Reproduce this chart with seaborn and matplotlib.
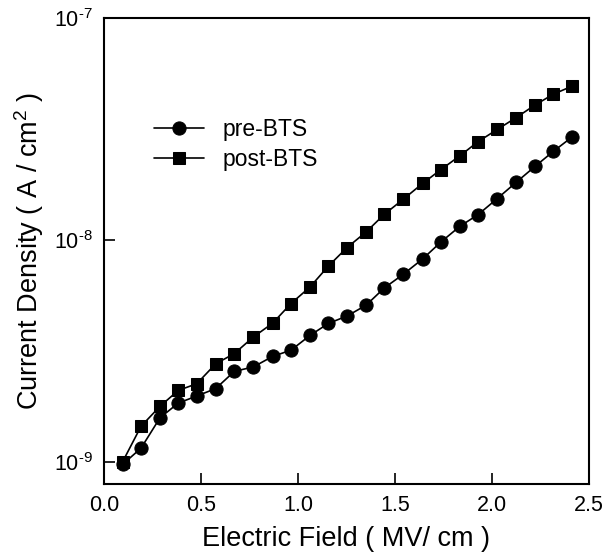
import matplotlib
matplotlib.use("Agg")
import matplotlib.pyplot as plt
import matplotlib.ticker as mticker
import seaborn as sns
import pandas as pd
import math

field = [0.096, 0.191, 0.289, 0.383, 0.478, 0.576, 0.672, 0.770, 0.869, 0.964,
         1.062, 1.156, 1.253, 1.351, 1.445, 1.543, 1.642, 1.737, 1.835, 1.929,
         2.027, 2.124, 2.222, 2.316, 2.414]
pre_bts = [9.8e-10, 1.16e-9, 1.59e-9, 1.85e-9, 1.99e-9, 2.15e-9, 2.57e-9, 2.69e-9,
           3.0e-9, 3.2e-9, 3.73e-9, 4.22e-9, 4.56e-9, 5.1e-9, 6.1e-9, 7.03e-9,
           8.23e-9, 9.82e-9, 1.156e-8, 1.305e-8, 1.54e-8, 1.82e-8, 2.15e-8,
           2.51e-8, 2.92e-8]
post_bts = [1.007e-9, 1.455e-9, 1.79e-9, 2.11e-9, 2.26e-9, 2.78e-9, 3.09e-9, 3.67e-9,
            4.23e-9, 5.19e-9, 6.16e-9, 7.64e-9, 9.27e-9, 1.089e-8, 1.308e-8, 1.53e-8,
            1.80e-8, 2.08e-8, 2.40e-8, 2.78e-8, 3.15e-8, 3.56e-8, 4.06e-8, 4.54e-8,
            4.94e-8]
series_names = ["pre-BTS", "post-BTS"]
x_ticks = [0.0, 0.5, 1.0, 1.5, 2.0, 2.5]
y_ticks = [1e-9, 1e-8, 1e-7]

df = pd.DataFrame({
    "E": field + field,
    "J": pre_bts + post_bts,
    "series": [series_names[0]] * len(field) + [series_names[1]] * len(field),
})

sns.set_style("ticks")
plt.rcParams["font.family"] = ["Liberation Sans", "DejaVu Sans"]
plt.rcParams["mathtext.fontset"] = "custom"
plt.rcParams["mathtext.rm"] = "Liberation Sans"
plt.rcParams["mathtext.it"] = "Liberation Sans:italic"
plt.rcParams["axes.unicode_minus"] = False
plt.rcParams["text.color"] = "black"
plt.rcParams["axes.labelcolor"] = "black"
plt.rcParams["xtick.color"] = "black"
plt.rcParams["ytick.color"] = "black"

fig = plt.figure(figsize=(6.15, 5.57), dpi=100)
ax = fig.add_axes([104 / 615, 1 - 484 / 557, 485 / 615, 466 / 557])

sns.lineplot(data=df, x="E", y="J", hue="series", style="series",
             markers={"pre-BTS": "o", "post-BTS": "s"}, dashes=False,
             palette={"pre-BTS": "black", "post-BTS": "black"},
             markersize=9, linewidth=1.2, markeredgecolor="black",
             ax=ax, legend=True)
for line in ax.lines:
    if line.get_marker() == "s":
        line.set_markersize(8)
    else:
        line.set_markersize(9.5)

ax.set_yscale("log")
ax.set_xlim(0.0, 2.5)
ax.set_ylim(10 ** -9.097, 1e-7)
ax.set_xticks(x_ticks)
ax.xaxis.set_major_formatter(mticker.FormatStrFormatter("%.1f"))
ax.yaxis.set_major_locator(mticker.FixedLocator(y_ticks))
ax.yaxis.set_minor_locator(mticker.NullLocator())


def log_fmt(v, pos):
    e = int(round(math.log10(v)))
    return r"$\mathregular{10^{\text{-}%d}}$" % (-e) if e < 0 else r"$\mathregular{10^{%d}}$" % e


ax.yaxis.set_major_formatter(mticker.FuncFormatter(log_fmt))

ax.tick_params(axis="both", which="major", direction="in", length=8, width=1.2,
               labelsize=15.5, pad=8, top=False, right=False, colors="black")
for s in ax.spines.values():
    s.set_linewidth(1.5)
    s.set_color("black")

ax.set_xlabel("Electric Field ( MV/ cm )", fontsize=19.5, labelpad=7)
ax.set_ylabel("Current Density ( A / cm$^2$ )", fontsize=19.5, labelpad=6)

handles, labels = ax.get_legend_handles_labels()
leg = ax.legend(handles, labels, loc="upper left", bbox_to_anchor=(0.06, 0.83),
                frameon=False, fontsize=16.5, handlelength=2.2, handletextpad=0.8,
                labelspacing=0.3)

fig.savefig("out.png", dpi=100)
